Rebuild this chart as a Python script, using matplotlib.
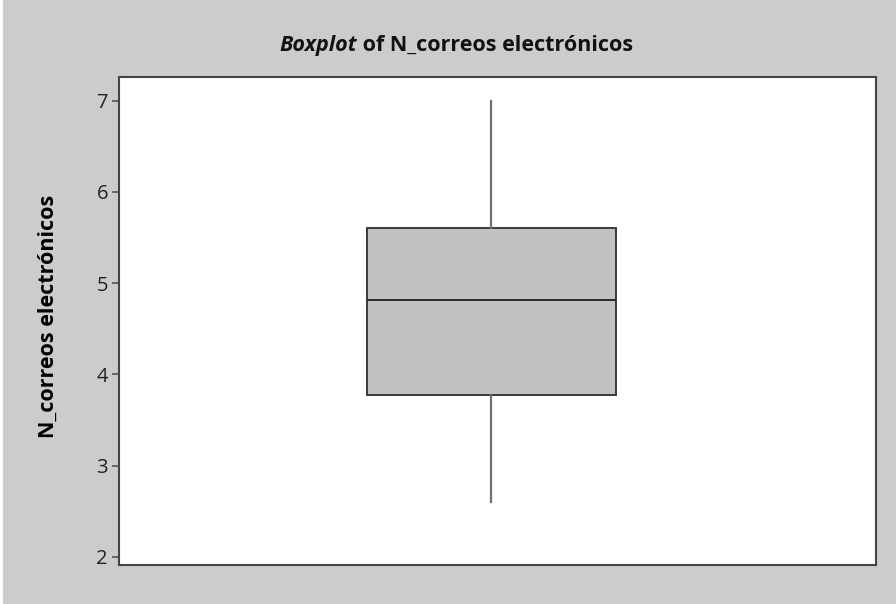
import matplotlib
matplotlib.use('Agg')
import matplotlib.pyplot as plt
from matplotlib.patches import Rectangle

# datos
variable = 'N_correos electrónicos'
whisker_low = 2.6
q1 = 3.77
median = 4.82
q3 = 5.61
whisker_high = 7.0
y_ticks = [2, 3, 4, 5, 6, 7]

plt.rcParams['font.family'] = ['Open Sans', 'DejaVu Sans']

fig = plt.figure(figsize=(8.96, 6.04), dpi=100)
fig.patch.set_facecolor('#cccccc')
# franja blanca a la izquierda
fig.patches.append(Rectangle((0, 0), 3 / 896, 1, transform=fig.transFigure,
                             facecolor='white', edgecolor='none', zorder=0))

ax = fig.add_axes([119 / 896, 39 / 604, 757 / 896, 488 / 604])
ax.set_facecolor('white')

stats = [{'whislo': whisker_low, 'q1': q1, 'med': median, 'q3': q3,
          'whishi': whisker_high, 'fliers': []}]
ax.bxp(stats, positions=[0.492], widths=0.328, patch_artist=True,
       showcaps=False, showfliers=False,
       boxprops=dict(facecolor='#c2c2c2', edgecolor='#3a3a3a', linewidth=1.4),
       medianprops=dict(color='#2a2a2a', linewidth=1.4),
       whiskerprops=dict(color='#707070', linewidth=1.6))

ax.set_xlim(0, 1)
ax.set_ylim(1.91, 7.26)
ax.set_xticks([])
ax.set_yticks(y_ticks)
ax.tick_params(axis='y', direction='out', length=5, width=1.2,
               color='#555555', labelsize=14.5, labelcolor='#222222', pad=3)
for s in ax.spines.values():
    s.set_color('#444444')
    s.set_linewidth(1.5)

ax.set_ylabel(variable, fontsize=15.5, fontweight='bold')
ax.yaxis.set_label_coords(-60 / 757, 0.51)

# titulo: "Boxplot" en cursiva negrita, el resto en negrita
renderer = fig.canvas.get_renderer()
t1 = fig.text(0, 1 - 45 / 604, 'Boxplot', fontsize=15.5, fontweight='bold',
              fontstyle='italic', ha='left', va='center', color='#111111')
t2 = fig.text(0, 1 - 45 / 604, ' of ' + variable, fontsize=15.5,
              fontweight='bold', ha='left', va='center', color='#111111')
w1 = t1.get_window_extent(renderer).width
w2 = t2.get_window_extent(renderer).width
x0 = 456 - (w1 + w2) / 2
t1.set_x(x0 / 896)
t2.set_x((x0 + w1) / 896)

fig.savefig('out.png', dpi=100, facecolor=fig.get_facecolor())
